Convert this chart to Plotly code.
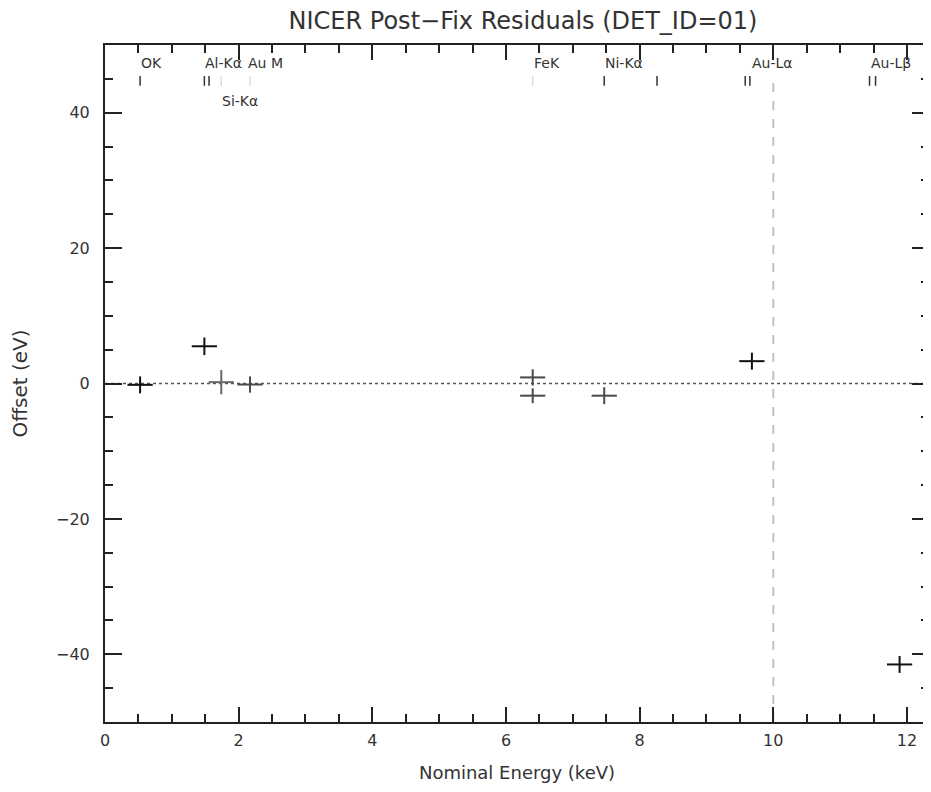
import plotly.graph_objects as go

# ---- data ----
# measured points (nominal energy keV, offset eV, error eV), grouped by drawing shade
black_energy = [0.525, 1.487, 9.68, 11.89]
black_offset = [-0.2, 5.5, 3.3, -41.5]
black_err = [1.25, 1.3, 1.25, 1.25]

gray_energy = [2.17, 6.40, 6.40, 7.47]
gray_offset = [-0.15, 0.9, -1.8, -1.8]
gray_err = [1.2, 1.2, 1.1, 1.25]

light_energy = [1.74]
light_offset = [0.2]
light_err = [1.8]

# emission line markers along the top
line_energy = [0.525, 1.487, 1.557, 1.74, 2.17, 6.40, 7.47, 8.26, 9.58, 9.65, 11.44, 11.53]
line_faint = [False, False, False, True, True, True, False, False, False, False, False, False]

# emission line labels
label_text = ["OK", "Al-Kα", "Au M", "Si-Kα", "FeK", "Ni-Kα", "Au-Lα", "Au-Lβ"]
label_energy = [0.525, 1.487, 2.12, 1.74, 6.40, 7.47, 9.67, 11.44]
label_row = [0, 0, 0, 1, 0, 0, 0, 0]

x_ticks = [0, 2, 4, 6, 8, 10, 12]
y_ticks = [-40, -20, 0, 20, 40]

FONT = "DejaVu Sans"
TXT = "#333333"

fig = go.Figure()

# zero reference line
fig.add_trace(go.Scatter(x=[0, 12.5], y=[0, 0], mode="lines",
                         line=dict(color="#555555", width=1.5, dash="dot"),
                         hoverinfo="skip", showlegend=False))
# vertical dashed line at 10 keV
fig.add_trace(go.Scatter(x=[10, 10], y=[-50, 45], mode="lines",
                         line=dict(color="#c0c0c0", width=2, dash="dash"),
                         hoverinfo="skip", showlegend=False))

# line markers
for faint in (False, True):
    xs = [e for e, f in zip(line_energy, line_faint) if f == faint]
    fig.add_trace(go.Scatter(
        x=xs, y=[44.7] * len(xs), mode="markers",
        marker=dict(symbol="line-ns", size=7,
                    line=dict(width=1.5, color="#dddddd" if faint else "#333333")),
        hoverinfo="skip", showlegend=False))

def add_points(xs, ys, es, color):
    fig.add_trace(go.Scatter(
        x=xs, y=ys, mode="markers",
        marker=dict(symbol="line-ew", size=18, line=dict(width=2, color=color)),
        error_y=dict(type="data", array=es, visible=True, width=0,
                     thickness=2, color=color),
        showlegend=False))

add_points(gray_energy, gray_offset, gray_err, "#4a4a4a")
add_points(light_energy, light_offset, light_err, "#6a6a6a")
add_points(black_energy, black_offset, black_err, "#111111")

row_y = [47.4, 41.7]
for t, e, r in zip(label_text, label_energy, label_row):
    fig.add_annotation(x=e, y=row_y[r], text=t, showarrow=False,
                       xanchor="left", yanchor="middle", xshift=-1,
                       font=dict(family=FONT, size=14, color=TXT))

axis_common = dict(showline=True, linecolor="#222222", linewidth=2, mirror="ticks",
                   ticks="inside", tickcolor="#222222", tickwidth=2,
                   showgrid=False, zeroline=False,
                   tickfont=dict(family=FONT, size=16, color=TXT))

fig.update_xaxes(range=[0, 12.33], tickvals=x_ticks, ticklen=15,
                 minor=dict(dtick=0.5, ticks="inside", ticklen=8, tickwidth=2,
                            tickcolor="#222222", showgrid=False),
                 ticklabelstandoff=3,
                 title=dict(text="Nominal Energy (keV)", standoff=17,
                            font=dict(family=FONT, size=18, color=TXT)),
                 **axis_common)
fig.update_yaxes(range=[-50, 50], tickvals=y_ticks, ticklen=17,
                 minor=dict(dtick=5, ticks="inside", ticklen=8, tickwidth=2,
                            tickcolor="#222222", showgrid=False),
                 ticklabelstandoff=10,
                 title=dict(text="Offset (eV)", standoff=29,
                            font=dict(family=FONT, size=20, color=TXT)),
                 **axis_common)

fig.update_layout(
    width=923, height=784,
    margin=dict(l=97, r=0, t=37, b=70),
    paper_bgcolor="white", plot_bgcolor="white",
    title=dict(text="NICER Post−Fix Residuals (DET_ID=01)",
               x=515 / 923, xref="container", xanchor="center",
               y=1 - 13 / 784, yref="container", yanchor="middle",
               font=dict(family=FONT, size=24, color=TXT)),
)

fig.write_html("out.html")
